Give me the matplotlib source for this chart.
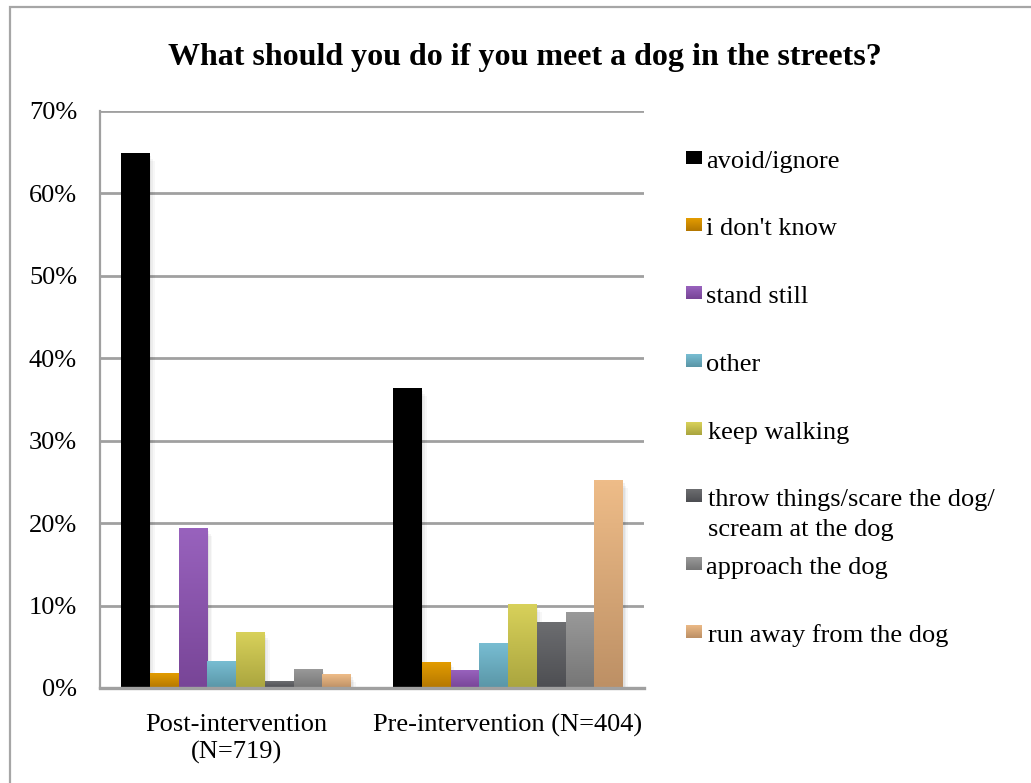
import numpy as np
import matplotlib
matplotlib.use("Agg")
import matplotlib.pyplot as plt
from matplotlib.patches import Rectangle
from matplotlib.colors import to_rgb

plt.rcParams['font.family'] = ['Liberation Serif', 'DejaVu Serif']

# ---- data ----
title = "What should you do if you meet a dog in the streets?"
groups = ["Post-intervention\n(N=719)", "Pre-intervention (N=404)"]
series = ["avoid/ignore", "i don't know", "stand still", "other", "keep walking",
          "throw things/scare the dog/\nscream at the dog", "approach the dog",
          "run away from the dog"]
post_values = [64.8, 1.7, 19.3, 3.2, 6.7, 0.8, 2.2, 1.6]
pre_values = [36.3, 3.1, 2.1, 5.4, 10.1, 8.0, 9.1, 25.1]
yticks = [0, 10, 20, 30, 40, 50, 60, 70]

# top / bottom gradient colours for each series
top_colors = ['#000000', '#E39C00', '#9862BD', '#78BDD2', '#D8D15A', '#6C6D70', '#999999', '#EEBC88']
bottom_colors = ['#000000', '#B47700', '#784597', '#5A96A7', '#AAA53F', '#4D4E52', '#767676', '#BD9065']

W, H = 1031, 783
fig = plt.figure(figsize=(W / 100, H / 100), dpi=100)
fig.patch.set_facecolor('white')

def fx(px):
    return px / W

def fy(py):
    return 1 - py / H

# chart border (top and left edges visible)
fig.add_artist(Rectangle((fx(10), fy(H + 20)), 1.2, fy(7) - fy(H + 20),
                         transform=fig.transFigure, fill=False,
                         edgecolor='#A6A6A6', lw=1.6, zorder=0))

ax = fig.add_axes([fx(100), fy(688), fx(644) - fx(100), fy(110.7) - fy(688)])
ax.set_xlim(-0.5, 1.5)
ax.set_ylim(0, 70)

grid_c = '#A0A0A0'
for t in yticks[1:]:
    ax.axhline(t, color=grid_c, lw=2.0, zorder=1)
for s in ['top', 'right']:
    ax.spines[s].set_visible(False)
ax.spines['left'].set_color(grid_c)
ax.spines['left'].set_linewidth(1.6)
ax.spines['bottom'].set_color(grid_c)
ax.spines['bottom'].set_linewidth(2.4)
ax.spines['bottom'].set_zorder(6)

ax.set_yticks(yticks)
ax.set_yticklabels([f"{t}%" for t in yticks])
ax.set_xticks([0, 1])
ax.set_xticklabels(groups, linespacing=1.3)
ax.tick_params(axis='both', length=0, labelsize=19)
ax.tick_params(axis='y', pad=16.5)
ax.tick_params(axis='x', pad=18.5)

n = len(series)
group_w = 230 / 272
bw = group_w / n
x = np.arange(len(groups))

def grad_img(c_top, c_bot, steps=64):
    t = np.linspace(0, 1, steps)[:, None]
    a = np.array(to_rgb(c_top))
    b = np.array(to_rgb(c_bot))
    return (a * (1 - t) + b * t)[:, None, :].repeat(2, axis=1)

for i, name in enumerate(series):
    vals = [post_values[i], pre_values[i]]
    offs = x - group_w / 2 + bw * (i + 0.5)
    bars = ax.bar(offs, vals, width=bw, color='none', edgecolor='none', zorder=3)
    for rect in bars:
        x0, h = rect.get_x(), rect.get_height()
        # soft shadow
        for k, a in enumerate([0.05, 0.04, 0.03]):
            d = 0.006 * (k + 1)
            ax.add_patch(Rectangle((x0 + d, 0), bw, h - 0.3 * (k + 1),
                                   facecolor='black', alpha=a, lw=0, zorder=2))
        ax.imshow(grad_img(top_colors[i], bottom_colors[i]),
                  extent=[x0, x0 + bw, 0, h], aspect='auto',
                  interpolation='bilinear', zorder=4)

ax.set_xlim(-0.5, 1.5)
ax.set_ylim(0, 70)

# legend
marker_tops = [151, 218, 286, 354, 422, 489, 557, 625]
text_x = [706, 706, 706, 706, 708, 708, 706, 708]
for i, name in enumerate(series):
    mt = marker_tops[i]
    max_ = fig.add_axes([fx(686), fy(mt + 13), fx(15), 13 / H])
    max_.imshow(grad_img(top_colors[i], bottom_colors[i], 16), aspect='auto',
                interpolation='bilinear')
    max_.set_axis_off()
    for j, line in enumerate(name.split('\n')):
        fig.text(fx(text_x[i]), fy(mt + 17 + 30 * j), line, fontsize=19,
                 ha='left', va='baseline')

fig.text(fx(525), fy(65), title, fontsize=23, fontweight='bold',
         ha='center', va='baseline')

fig.savefig('out.png', dpi=100)
